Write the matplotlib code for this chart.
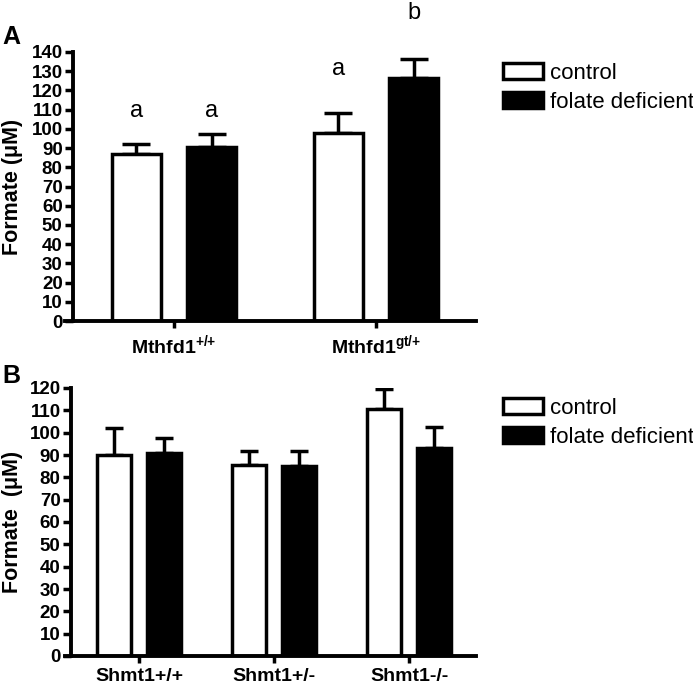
import numpy as np
import matplotlib
matplotlib.use("Agg")
import matplotlib.pyplot as plt

plt.rcParams['font.family'] = ['Liberation Sans', 'DejaVu Sans']
plt.rcParams['mathtext.fontset'] = 'custom'
plt.rcParams['mathtext.rm'] = 'Liberation Sans:bold'
plt.rcParams['mathtext.bf'] = 'Liberation Sans:bold'
plt.rcParams['mathtext.it'] = 'Liberation Sans:bold'

# ---------------- data ----------------
series_names = ['control', 'folate deficient']

A_groups = ['Mthfd1$^{{+}/{+}}$', 'Mthfd1$^{gt/{+}}$']
A_control = [87, 98]
A_control_err = [5, 10]
A_folate = [90.5, 126.5]
A_folate_err = [7, 10]
A_letters = ['a', 'a', 'a', 'b']          # control1, folate1, control2, folate2
A_letter_y = [106, 106, 128, 157]
A_yticks = list(range(0, 141, 10))

B_groups = ['Shmt1+/+', 'Shmt1+/-', 'Shmt1-/-']
B_control = [90, 85.5, 110.5]
B_control_err = [12, 6.3, 9]
B_folate = [90.9, 85.1, 93.1]
B_folate_err = [6.7, 6.7, 9.4]
B_yticks = list(range(0, 121, 10))

LW = 2.5

fig = plt.figure(figsize=(6.93, 6.85), dpi=100)
W, H = 693, 685


def style_axes(ax, xlim, spine_x, ylim, yticks, xlabels, xpad):
    ax.set_xlim(*xlim)
    ax.set_ylim(*ylim)
    for s in ['top', 'right']:
        ax.spines[s].set_visible(False)
    ax.spines['left'].set_position(('data', spine_x))
    ax.spines['left'].set_linewidth(LW + 0.3)
    ax.spines['bottom'].set_linewidth(LW + 0.3)
    ax.set_yticks(yticks)
    ax.set_yticklabels([str(t) for t in yticks], fontsize=13.5, fontweight='bold')
    ax.set_xticks(np.arange(len(xlabels)))
    ax.set_xticklabels(xlabels, fontsize=14, fontweight='bold')
    ax.tick_params(axis='y', direction='out', length=6, width=LW, pad=1.5)
    ax.tick_params(axis='x', direction='out', length=5, width=LW, pad=xpad)


def draw_bars(ax, ctrl, ctrl_err, fd, fd_err, width, off, capsize):
    x = np.arange(len(ctrl))
    ax.errorbar(x - off, ctrl, yerr=[np.zeros(len(ctrl)), ctrl_err], fmt='none',
                ecolor='black', elinewidth=LW, capsize=capsize, capthick=LW, zorder=1)
    ax.errorbar(x + off, fd, yerr=[np.zeros(len(fd)), fd_err], fmt='none',
                ecolor='black', elinewidth=LW, capsize=capsize, capthick=LW, zorder=1)
    b1 = ax.bar(x - off, ctrl, width, color='white', edgecolor='black',
                linewidth=LW, zorder=2, label=series_names[0])
    b2 = ax.bar(x + off, fd, width, color='black', edgecolor='black',
                linewidth=LW, zorder=2, label=series_names[1])
    return x, b1, b2


# ---------------- Panel A ----------------
axA = fig.add_axes([65 / W, 1 - 321 / H, 411 / W, 269 / H])
offA = 0.186
xA, a1, a2 = draw_bars(axA, A_control, A_control_err, A_folate, A_folate_err,
                       0.243, offA, 10)
style_axes(axA, (-0.54, 1.495), -0.5, (0, 140), A_yticks, A_groups, 4)
axA.set_ylabel('Formate (μM)', fontsize=15.5, fontweight='bold')
axA.yaxis.set_label_coords((23 - 65) / 411, 0.5)
letter_x = [xA[0] - offA, xA[0] + offA, xA[1] - offA, xA[1] + offA]
for lx, ly, lt in zip(letter_x, A_letter_y, A_letters):
    axA.text(lx, ly, lt, ha='center', va='baseline', fontsize=17, clip_on=False)
axA.legend(handles=[a1, a2], loc='upper left', bbox_to_anchor=(503 / W, 1 - 63 / H),
           bbox_transform=fig.transFigure, frameon=False, fontsize=16,
           handlelength=1.8, handleheight=0.75, handletextpad=0.3,
           labelspacing=0.35, borderpad=0, borderaxespad=0)
fig.text(2 / W, 1 - 44 / H, 'A', fontsize=18, fontweight='bold', ha='left', va='baseline')

# ---------------- Panel B ----------------
axB = fig.add_axes([65 / W, 1 - 656 / H, 411 / W, 268 / H])
offB = 0.185
xB, b1, b2 = draw_bars(axB, B_control, B_control_err, B_folate, B_folate_err,
                       0.25, offB, 6.5)
style_axes(axB, (-0.548, 2.496), -0.504, (0, 120), B_yticks, B_groups, 3.5)
axB.set_ylabel('Formate  (μM)', fontsize=15.5, fontweight='bold')
axB.yaxis.set_label_coords((23 - 65) / 411, 0.5)
axB.legend(handles=[b1, b2], loc='upper left', bbox_to_anchor=(503 / W, 1 - 398 / H),
           bbox_transform=fig.transFigure, frameon=False, fontsize=16,
           handlelength=1.8, handleheight=0.75, handletextpad=0.3,
           labelspacing=0.35, borderpad=0, borderaxespad=0)
fig.text(2 / W, 1 - 383 / H, 'B', fontsize=18, fontweight='bold', ha='left', va='baseline')

fig.savefig('out.png', dpi=100)
